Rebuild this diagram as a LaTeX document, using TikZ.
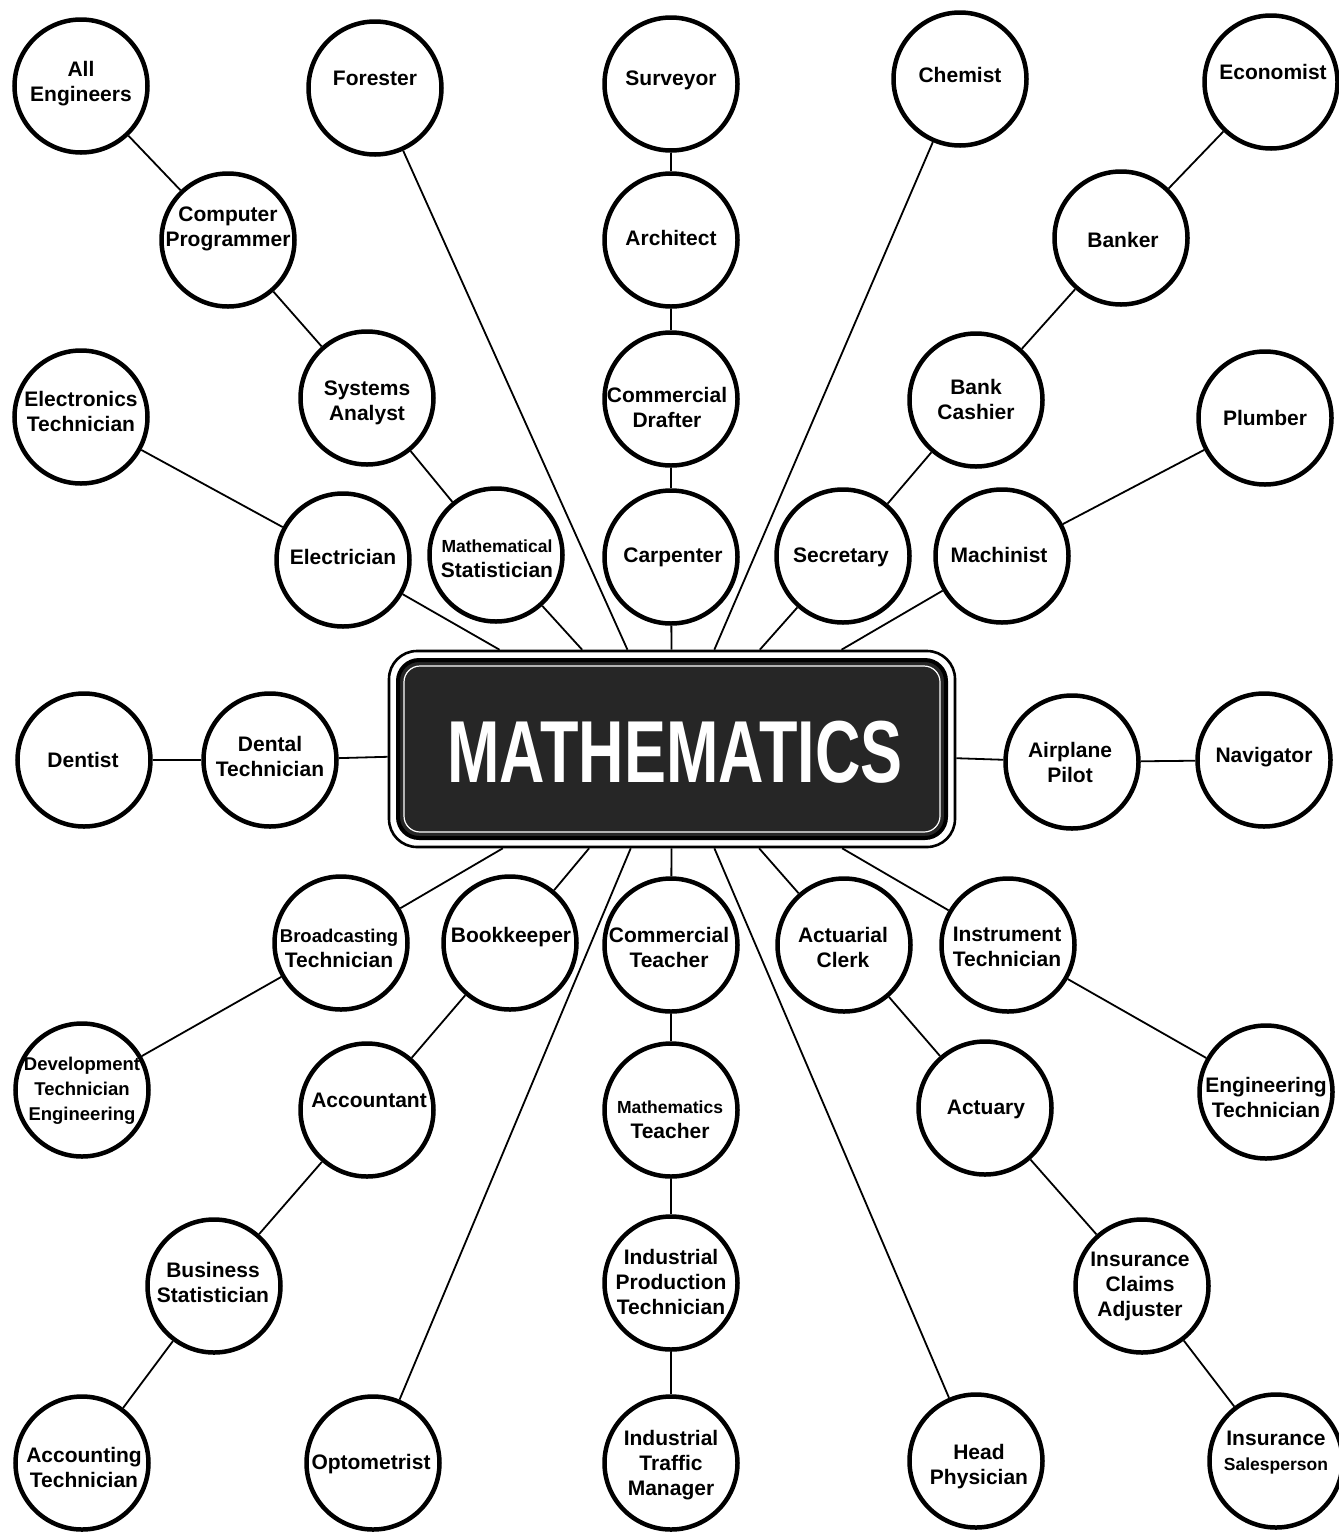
\documentclass[tikz,border=0pt]{standalone}
\usepackage{fontspec}
\setmainfont{Liberation Sans}
\newcommand\szA[1]{{\fontsize{17.5}{25}\selectfont #1}}
\newcommand\szB[1]{{\fontsize{18.5}{25}\selectfont #1}}
\tikzset{
  occ/.style={circle, draw=black, line width=4.5pt, minimum size=133pt, inner sep=0pt},
  lbl/.style={font=\fontsize{21}{25}\selectfont\bfseries, align=center, inner sep=0pt, text=black},
  link/.style={line width=1.8pt, draw=black},
  boxout/.style={rectangle, draw=black, line width=2.6pt, rounded corners=28pt, minimum width=566pt, minimum height=196pt, inner sep=0pt},
  boxin/.style={rectangle, draw=black, line width=4pt, fill=black!85, rounded corners=21pt, minimum width=548pt, minimum height=178pt, inner sep=0pt},
  boxline/.style={rectangle, draw=white, line width=1.2pt, rounded corners=16pt, minimum width=536pt, minimum height=166pt, inner sep=0pt},
}
\begin{document}
\begin{tikzpicture}[x=1pt,y=-1pt]
\path[fill=white] (0,0) rectangle (1339,1532);
\useasboundingbox (0,0) rectangle (1339,1532);

% central box
\node[boxout] (math) at (672,749) {};
\node[boxin] (mathin) at (672,749) {};
\node[boxline] (mathln) at (672,749) {};
\node[inner sep=0pt, text=white, font=\fontsize{88}{90}\selectfont\bfseries] (mtext) at (675,752) {\scalebox{0.715}[1]{MATHEMATICS}};

% circles
\node[occ] (ae) at (81,86) {};
\node[occ] (fo) at (375,88) {};
\node[occ] (su) at (671,84) {};
\node[occ] (ch) at (960,79) {};
\node[occ] (ec) at (1271,82) {};
\node[occ] (cp) at (228,240) {};
\node[occ] (ar) at (671,240) {};
\node[occ] (ba) at (1121,238) {};
\node[occ] (et) at (81,417) {};
\node[occ] (sa) at (367,398) {};
\node[occ] (cd) at (671,399) {};
\node[occ] (bc) at (976,400) {};
\node[occ] (pl) at (1265,418) {};
\node[occ] (el) at (343,560) {};
\node[occ] (ms) at (496,555) {};
\node[occ] (ca) at (671,557) {};
\node[occ] (se) at (843,556) {};
\node[occ] (mc) at (1002,556) {};
\node[occ] (de) at (84,760) {};
\node[occ] (dt) at (270,760) {};
\node[occ] (ap) at (1072,762) {};
\node[occ] (na) at (1264,760) {};
\node[occ] (bt) at (341,943) {};
\node[occ] (bk) at (510,943) {};
\node[occ] (ct) at (671,945) {};
\node[occ] (ac) at (844,945) {};
\node[occ] (it) at (1008,945) {};
\node[occ] (dv) at (82,1090) {};
\node[occ] (an) at (367,1110) {};
\node[occ] (mt) at (671,1110) {};
\node[occ] (ay) at (985,1108) {};
\node[occ] (en) at (1266,1092) {};
\node[occ] (bs) at (214,1286) {};
\node[occ] (ip) at (671,1283) {};
\node[occ] (ic) at (1142,1286) {};
\node[occ] (at) at (82,1463) {};
\node[occ] (op) at (373,1463) {};
\node[occ] (tm) at (671,1463) {};
\node[occ] (hp) at (976,1461) {};
\node[occ] (is) at (1276,1461) {};

% labels
\node[lbl] (ae-t) at (81,84) {All\\Engineers};
\node[lbl] (fo-t) at (375,78) {Forester};
\node[lbl] (su-t) at (671,80) {Surveyor};
\node[lbl] (ch-t) at (960,75) {Chemist};
\node[lbl] (ec-t) at (1273,72) {Economist};
\node[lbl] (cp-t) at (228,229) {Computer\\Programmer};
\node[lbl] (ar-t) at (671,238) {Architect};
\node[lbl] (ba-t) at (1123,240) {Banker};
\node[lbl] (et-t) at (81,411) {Electronics\\Technician};
\node[lbl] (sa-t) at (367,403) {Systems\\Analyst};
\node[lbl] (cd-t) at (667,407) {Commercial\\Drafter};
\node[lbl] (bc-t) at (976,399) {Bank\\Cashier};
\node[lbl] (pl-t) at (1265,418) {Plumber};
\node[lbl] (el-t) at (343,557) {Electrician};
\node[lbl] (ms-t) at (497,559) {\szA{Mathematical}\\Statistician};
\node[lbl] (ca-t) at (673,557) {Carpenter};
\node[lbl] (se-t) at (841,557) {Secretary};
\node[lbl] (mc-t) at (999,555) {Machinist};
\node[lbl] (de-t) at (83,760) {Dentist};
\node[lbl] (dt-t) at (270,756) {Dental\\Technician};
\node[lbl] (ap-t) at (1070,762) {Airplane\\Pilot};
\node[lbl] (na-t) at (1264,757) {Navigator};
\node[lbl] (bt-t) at (339,948) {\szB{Broadcasting}\\Technician};
\node[lbl] (bk-t) at (511,937) {Bookkeeper};
\node[lbl] (ct-t) at (669,947) {Commercial\\Teacher};
\node[lbl] (ac-t) at (843,947) {Actuarial\\Clerk};
\node[lbl] (it-t) at (1007,947) {Instrument\\Technician};
\node[lbl] (dv-t) at (82,1091) {\szB{Development}\\\szB{Technician}\\\szB{Engineering}};
\node[lbl] (an-t) at (369,1100) {Accountant};
\node[lbl] (mt-t) at (670,1120) {\szA{Mathematics}\\Teacher};
\node[lbl] (ay-t) at (986,1109) {Actuary};
\node[lbl] (en-t) at (1266,1097) {Engineering\\Technician};
\node[lbl] (bs-t) at (213,1282) {Business\\Statistician};
\node[lbl] (ip-t) at (671,1282) {Industrial\\Production\\Technician};
\node[lbl] (ic-t) at (1140,1286) {Insurance\\Claims\\Adjuster};
\node[lbl] (at-t) at (84,1467) {Accounting\\Technician};
\node[lbl] (op-t) at (371,1464) {Optometrist};
\node[lbl] (tm-t) at (671,1465) {Industrial\\Traffic\\Manager};
\node[lbl] (hp-t) at (979,1467) {Head\\Physician};
\node[lbl] (is-t) at (1276,1453) {Insurance\\\szA{Salesperson}};

% connectors
\draw[link] (ae) -- (cp);
\draw[link] (cp) -- (sa);
\draw[link] (sa) -- (ms);
\draw[link] (ms) -- (math);
\draw[link] (fo) -- (math);
\draw[link] (su) -- (ar);
\draw[link] (ar) -- (cd);
\draw[link] (cd) -- (ca);
\draw[link] (ca) -- (math);
\draw[link] (ch) -- (math);
\draw[link] (ec) -- (ba);
\draw[link] (ba) -- (bc);
\draw[link] (bc) -- (se);
\draw[link] (se) -- (math);
\draw[link] (et) -- (el);
\draw[link] (el) -- (math);
\draw[link] (pl) -- (mc);
\draw[link] (mc) -- (math);
\draw[link] (de) -- (dt);
\draw[link] (dt) -- (math);
\draw[link] (math) -- (ap);
\draw[link] (ap) -- (na);
\draw[link] (math) -- (bt);
\draw[link] (bt) -- (dv);
\draw[link] (math) -- (bk);
\draw[link] (bk) -- (an);
\draw[link] (an) -- (bs);
\draw[link] (bs) -- (at);
\draw[link] (math) -- (op);
\draw[link] (math) -- (ct);
\draw[link] (ct) -- (mt);
\draw[link] (mt) -- (ip);
\draw[link] (ip) -- (tm);
\draw[link] (math) -- (hp);
\draw[link] (math) -- (ac);
\draw[link] (ac) -- (ay);
\draw[link] (ay) -- (ic);
\draw[link] (ic) -- (is);
\draw[link] (math) -- (it);
\draw[link] (it) -- (en);
\end{tikzpicture}
\end{document}
